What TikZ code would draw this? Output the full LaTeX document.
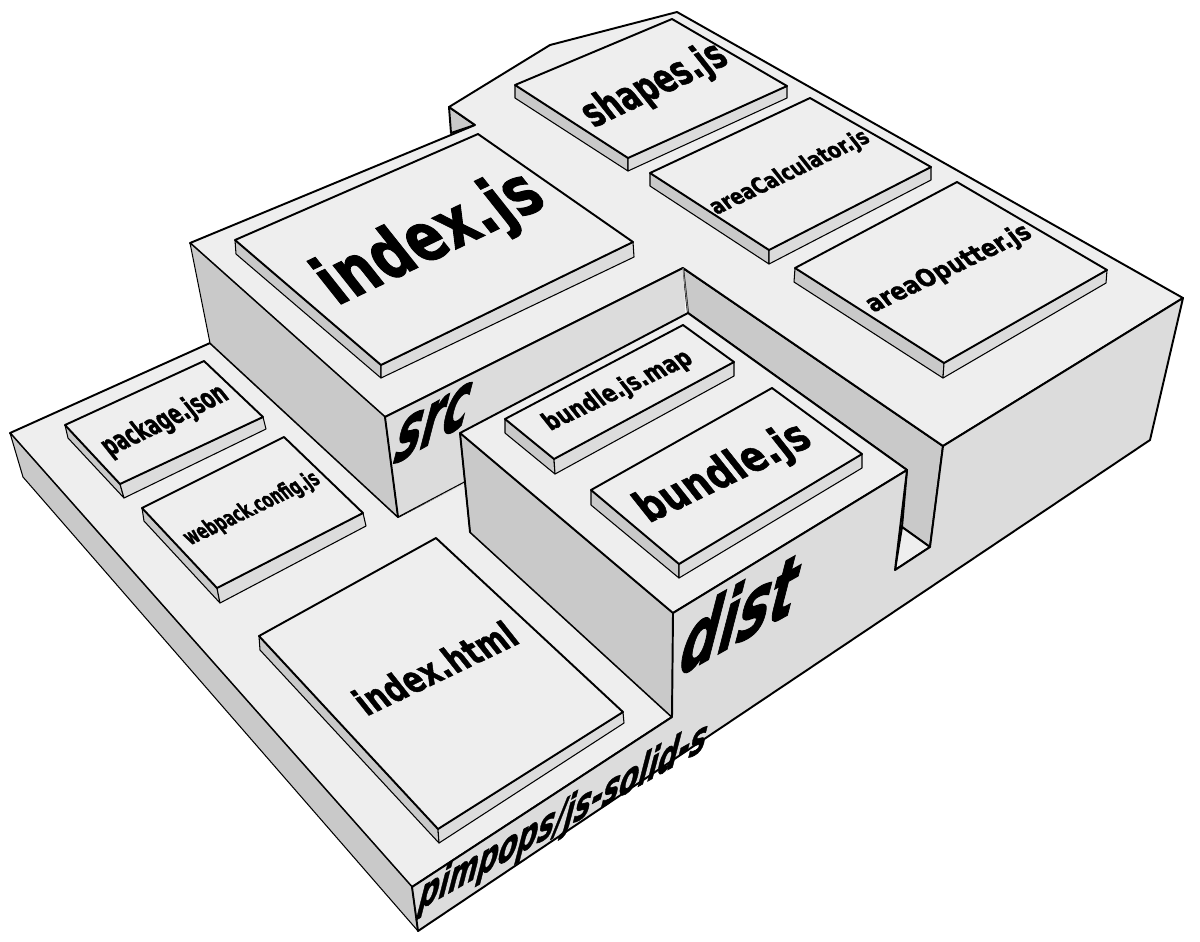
\documentclass[tikz,border=0pt]{standalone}
\usepackage{graphicx}
\usepackage{fontspec}
\setmainfont{DejaVu Sans}
\newfontfamily\heavyfont[FakeBold=1.4]{DejaVu Sans Bold}
\definecolor{topgray}{HTML}{EEEEEE}
\definecolor{frontgray}{HTML}{DCDCDC}
\definecolor{sidegray}{HTML}{C9C9C9}
\newcommand{\fitlabel}[3]{\resizebox{#1\dimexpr0.01cm\relax}{#2\dimexpr0.01cm\relax}{\heavyfont #3}}
\tikzset{
    topface/.style={draw=black, fill=topgray, line width=0.55pt, line join=round},
    frontface/.style={draw=black, fill=frontgray, line width=0.55pt, line join=round},
    sideface/.style={draw=black, fill=sidegray, line width=0.55pt, line join=round},
    thinfront/.style={frontface, line width=0.3pt},
    thinside/.style={sideface, line width=0.3pt},
    toplabel/.style={inner sep=0pt, cm={.9,.43,-.62,.78,(0,0)}},
    facelabel/.style={inner sep=0pt, cm={.87,.49,.25,.97,(0,0)}}
}

\begin{document}
\begin{tikzpicture}[x=0.01cm, y=-0.01cm]
    \useasboundingbox (0,0) rectangle (1200,941);
    % The low floor, the far wall and the notch at the right.
        \draw[topface] (10,433) -- (210,343) -- (398,517) -- (470,479) -- (470,532) -- (672,717) -- (412,887) -- cycle;
        \draw[thinside] (10,433) -- (23,477) -- (418,931) -- (412,887) -- cycle;
        \draw[sideface] (683,268) -- (943,446) -- (930,547) -- (902,527) -- (907,470) -- (688,313) -- cycle;
        \draw[topface] (902,527) -- (930,547) -- (895,570) -- cycle;
    % The high block with src.
        \draw[sideface] (449,107) -- (451,133) -- (475,125) -- cycle;
        \draw[topface] (190,243) -- (475,125) -- (449,107) -- (550,45) -- (677,12) -- (1183,298) -- (943,446) -- (683,268) -- (385,417) -- cycle;
        \draw[thinside] (190,243) -- (385,417) -- (398,517) -- (210,343) -- cycle;
        \fill[frontgray] (385,417) -- (398,517) -- (470,481) -- (688,360) -- (683,268) -- cycle;
        \draw[black, line width=0.55pt] (683,268) -- (385,417) -- (398,517);
        \draw[black, line width=0.3pt] (398,517) -- (470,479);
        \draw[gray, line width=0.3pt] (683,268) -- (688,313);
    % The dist block.
        \draw[thinside] (460,433) -- (673,613) -- (672,717) -- (470,532) -- cycle;
        \draw[black, line width=0.55pt] (460,433) -- (470,532);
        \draw[topface] (460,433) -- (688,313) -- (907,470) -- (673,613) -- cycle;
        \draw[frontface] (412,887) -- (672,717) -- (673,613) -- (907,470) -- (895,570) -- (930,547) -- (943,446) -- (1183,298) -- (1150,440) -- (418,931) -- cycle;
    % Below are the files, each one side, front and top.
        \draw[thinside] (515,85) -- (628,158) -- (628,171) -- (515,98) -- cycle;
        \draw[thinfront] (628,158) -- (787,86) -- (787,98) -- (628,171) -- cycle;
        \draw[topface] (515,85) -- (672,19) -- (787,86) -- (628,158) -- cycle;
        \draw[thinside] (650,173) -- (769,250) -- (769,264) -- (650,186) -- cycle;
        \draw[thinfront] (769,250) -- (931,167) -- (931,180) -- (769,264) -- cycle;
        \draw[topface] (650,173) -- (810,98) -- (931,167) -- (769,250) -- cycle;
        \draw[thinside] (795,268) -- (944,363) -- (943,378) -- (794,282) -- cycle;
        \draw[thinfront] (944,363) -- (1107,270) -- (1106,283) -- (943,378) -- cycle;
        \draw[topface] (795,268) -- (957,182) -- (1107,270) -- (944,363) -- cycle;
        \draw[thinside] (235,240) -- (381,365) -- (381,378) -- (236,254) -- cycle;
        \draw[thinfront] (381,365) -- (633,242) -- (634,257) -- (381,378) -- cycle;
        \draw[topface] (235,240) -- (478,134) -- (633,242) -- (381,365) -- cycle;
        \draw[thinside] (65,425) -- (120,484) -- (124,498) -- (68,438) -- cycle;
        \draw[thinfront] (120,484) -- (263,417) -- (266,429) -- (124,498) -- cycle;
        \draw[topface] (65,425) -- (204,361) -- (263,417) -- (120,484) -- cycle;
        \draw[thinside] (142,508) -- (217,588) -- (220,603) -- (144,521) -- cycle;
        \draw[thinfront] (217,588) -- (363,513) -- (366,526) -- (220,603) -- cycle;
        \draw[topface] (142,508) -- (284,437) -- (363,513) -- (217,588) -- cycle;
        \draw[thinside] (259,636) -- (438,829) -- (439,843) -- (260,650) -- cycle;
        \draw[thinfront] (438,829) -- (623,712) -- (624,723) -- (439,843) -- cycle;
        \draw[topface] (259,636) -- (436,538) -- (623,712) -- (438,829) -- cycle;
        \draw[thinside] (505,419) -- (554,459) -- (555,474) -- (505,433) -- cycle;
        \draw[thinfront] (554,459) -- (734,362) -- (734,376) -- (555,474) -- cycle;
        \draw[topface] (505,419) -- (683,325) -- (734,362) -- (554,459) -- cycle;
        \draw[thinside] (591,490) -- (679,564) -- (679,578) -- (591,505) -- cycle;
        \draw[thinfront] (679,564) -- (862,454) -- (862,468) -- (679,578) -- cycle;
        \draw[topface] (591,490) -- (772,388) -- (862,454) -- (679,564) -- cycle;
    % Below nodes are the labels.
        \node[toplabel] (shapes) at (655,86) {\fitlabel{152}{33}{shapes.js}};
        \node[toplabel] (calculator) at (790,173) {\fitlabel{172}{18}{areaCalculator.js}};
        \node[toplabel] (outputter) at (949,269) {\fitlabel{178}{20}{areaOputter.js}};
        \node[toplabel] (indexjs) at (431,240) {\fitlabel{236}{55}{index.js}};
        \node[toplabel] (package) at (165,421) {\fitlabel{134}{23}{package.json}};
        \node[toplabel] (webpack) at (252,509) {\fitlabel{146}{18}{webpack.config.js}};
        \node[toplabel] (indexhtml) at (435,668) {\fitlabel{172}{30}{index.html}};
        \node[toplabel] (map) at (618,391) {\fitlabel{160}{20}{bundle.js.map}};
        \node[toplabel] (bundle) at (724,474) {\fitlabel{184}{35}{bundle.js}};
        \node[facelabel] (src) at (433,423) {\fitlabel{85}{48}{src}};
        \node[facelabel] (dist) at (741,612) {\fitlabel{132}{72}{dist}};
        \node[facelabel] (repo) at (563,818) {\fitlabel{330}{37}{pimpops/js-solid-s}};
\end{tikzpicture}
\end{document}
